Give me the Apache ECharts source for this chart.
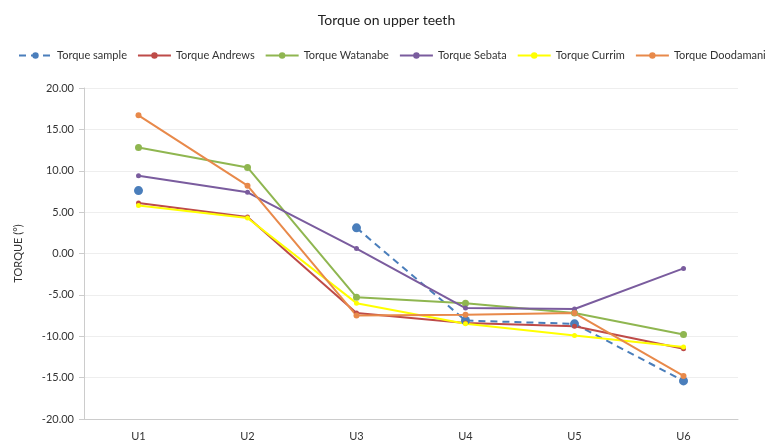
<!DOCTYPE html>
<html><head><meta charset="utf-8">
<script src="https://cdn.jsdelivr.net/npm/echarts@6/dist/echarts.min.js"></script>
<style>html,body{margin:0;padding:0;background:#fff}#c{width:773px;height:448px}</style>
</head><body><div id="c"></div>
<script>
var categories = ['U1','U2','U3','U4','U5','U6'];
var yTicks = [-20,-15,-10,-5,0,5,10,15,20];
var sample    = [7.6, null, 3.1, -8.1, -8.5, -15.4];
var andrews   = [6.1, 4.4, -7.2, -8.4, -8.8, -11.5];
var watanabe  = [12.8, 10.4, -5.3, -6.0, -7.2, -9.8];
var sebata    = [9.4, 7.4, 0.6, -6.6, -6.7, -1.8];
var currim    = [5.8, 4.3, -6.0, -8.5, -9.9, -11.3];
var doodamani = [16.7, 8.2, -7.5, -7.4, -7.2, -14.8];

var font = 'Lato';
function mk(name, data, color, sym, dashed){
  return {
    name: name, type: 'line', data: data, connectNulls: false,
    symbol: 'circle', symbolSize: sym,
    lineStyle: {color: color, width: 2, type: dashed ? [7,5] : 'solid'},
    itemStyle: {color: color},
    emphasis: {disabled: true}
  };
}
var chart = echarts.init(document.getElementById('c'));
chart.setOption({
  animation: false,
  backgroundColor: '#fff',
  title: {text: 'Torque on upper teeth', left: 'center', top: 8,
    textStyle: {fontFamily: font, fontSize: 14, fontWeight: 'normal', color: '#222'}},
  legend: {top: 50, left: 18, width: 755, padding: 0, itemWidth: 33, itemHeight: 8, itemGap: 10,
    textStyle: {fontFamily: font, fontSize: 11, color: '#333'},
    data: ['Torque sample','Torque Andrews','Torque Watanabe','Torque Sebata','Torque Currim','Torque Doodamani']},
  grid: {left: 84, right: 35, top: 88, bottom: 29},
  xAxis: {type: 'category', data: categories, boundaryGap: true,
    axisLine: {onZero: false, lineStyle: {color: '#ccc'}}, axisTick: {show: false},
    axisLabel: {fontFamily: font, fontSize: 11, color: '#333', margin: 12}},
  yAxis: {type: 'value', min: yTicks[0], max: yTicks[yTicks.length-1], interval: 5,
    name: 'TORQUE (°)', nameLocation: 'middle', nameGap: 60, nameRotate: 90,
    nameTextStyle: {fontFamily: font, fontSize: 11, color: '#333'},
    axisLine: {show: true, lineStyle: {color: '#ccc'}},
    axisTick: {show: true, length: 5, lineStyle: {color: '#ccc'}},
    splitLine: {lineStyle: {color: '#eeeeee'}},
    axisLabel: {fontFamily: font, fontSize: 11, color: '#333', margin: 10,
      formatter: function(v){return v.toFixed(2);}}},
  series: [
    mk('Torque sample', sample, '#4a7ebb', 9, true),
    mk('Torque Andrews', andrews, '#be4b48', 5, false),
    mk('Torque Watanabe', watanabe, '#8fb650', 7, false),
    mk('Torque Sebata', sebata, '#7a5c9e', 5, false),
    mk('Torque Currim', currim, '#ffff00', 5, false),
    mk('Torque Doodamani', doodamani, '#e8894a', 6, false)
  ]
});
</script></body></html>
